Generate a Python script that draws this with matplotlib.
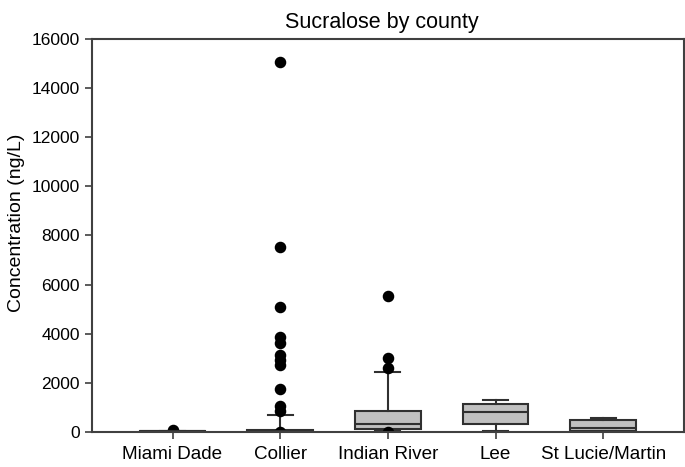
import matplotlib
matplotlib.use("Agg")
import matplotlib.pyplot as plt

plt.rcParams["font.family"] = ["Liberation Sans", "DejaVu Sans"]

counties = ["Miami Dade", "Collier", "Indian River", "Lee", "St Lucie/Martin"]
# box statistics (ng/L)
whislo = [0, 0, 30, 30, 20]
q1 = [0, 0, 120, 330, 40]
med = [20, 40, 330, 810, 160]
q3 = [50, 80, 855, 1140, 490]
whishi = [60, 690, 2440, 1300, 570]
outliers = [
    [80],
    [15070, 7550, 5100, 3870, 3620, 3130, 2930, 2730, 1750, 1060, 855, 0],
    [5530, 3010, 2600, 0],
    [],
    [],
]

stats = []
for i, name in enumerate(counties):
    stats.append({"label": name, "whislo": whislo[i], "q1": q1[i], "med": med[i],
                  "q3": q3[i], "whishi": whishi[i], "fliers": outliers[i]})

fig = plt.figure(figsize=(6.85, 4.67), dpi=100)
ax = fig.add_axes([0.134, 0.075, 0.8645, 0.8415])

edge = "#303030"
ax.bxp(stats, positions=range(1, 6), widths=0.61, patch_artist=True,
       boxprops=dict(facecolor="#c0c0c0", edgecolor=edge, linewidth=1.5),
       medianprops=dict(color=edge, linewidth=1.5),
       whiskerprops=dict(color=edge, linewidth=1.5),
       capprops=dict(color=edge, linewidth=1.5),
       capwidths=0.23,
       flierprops=dict(marker="o", markerfacecolor="black", markeredgecolor="black",
                       markersize=7.3))

ax.set_xlim(0.25, 5.75)
ax.set_ylim(0, 16000)
ax.set_yticks(range(0, 16001, 2000))
for s in ["top", "right", "left", "bottom"]:
    ax.spines[s].set_color("#404040")
    ax.spines[s].set_linewidth(1.5)
ax.tick_params(direction="out", length=5, width=1.2, color="#404040")
ax.tick_params(axis="y", labelsize=12.5)
ax.tick_params(axis="x", labelsize=13.6, pad=5)
ax.set_ylabel("Concentration (ng/L)", fontsize=14)
ax.yaxis.set_label_coords(-0.112, 0.532)
ax.set_title("Sucralose by county", fontsize=15.5, x=0.49, pad=8)

fig.savefig("out.png", dpi=100)
